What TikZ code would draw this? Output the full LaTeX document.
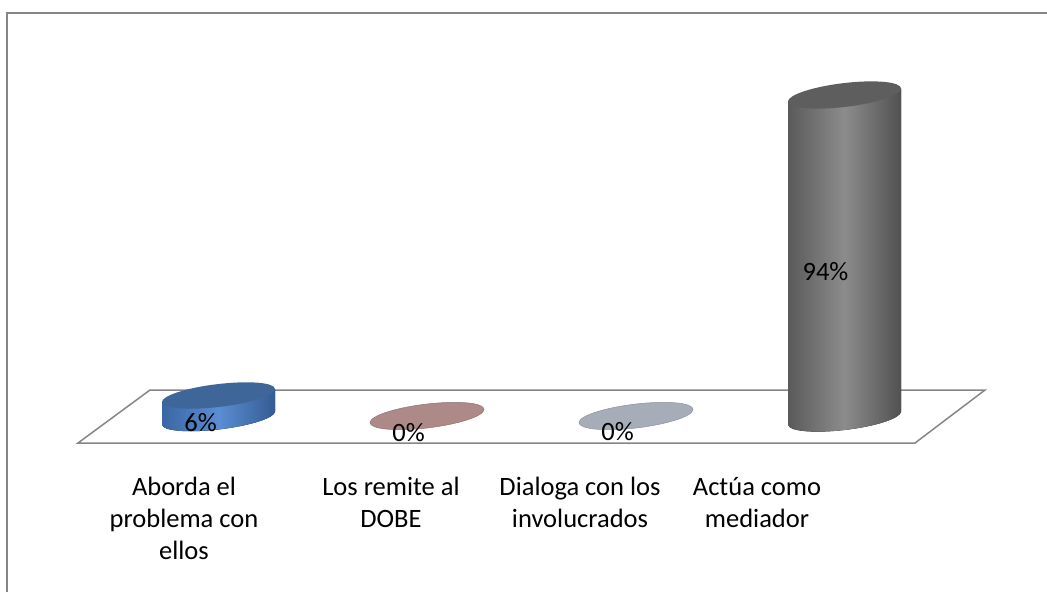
\documentclass[tikz,border=0pt]{standalone}
\usepackage{fontspec}
\setmainfont{Carlito}

\definecolor{framegray}{HTML}{868686}
\definecolor{blueside}{HTML}{3A66A3}
\definecolor{bluelight}{HTML}{5B8DD3}
\definecolor{bluetop}{HTML}{3E6699}
\definecolor{rosetop}{HTML}{AD8987}
\definecolor{slatetop}{HTML}{A7ADB8}
\definecolor{grayside}{HTML}{5A5A5A}
\definecolor{graylight}{HTML}{8C8C8C}
\definecolor{graytop}{HTML}{5E5E5E}

\begin{document}
\begin{tikzpicture}[x=1pt, y=-1pt,
    pct/.style={anchor=base, inner sep=0pt, font=\fontsize{26.5pt}{32pt}\selectfont},
    cat/.style={anchor=base, inner sep=0pt, align=center, font=\fontsize{26.5pt}{32pt}\selectfont}]
        \useasboundingbox (0,0) rectangle (1047,592);

        % Chart frame
        \draw[framegray, line width=2pt] (7,592) -- (7,13) -- (1047,13);

        % Floor
        \draw[framegray, line width=1.5pt] (150,390) -- (985,390) -- (915,443) -- (78,443) -- cycle;

        % Bar 1: cylinder
        \begin{scope}[shift={(218.5,0)}, yslant=0.115]
            \fill[left color=blueside, right color=blueside!90!black, middle color=bluelight]
                (-56.5,395.5) -- (-56.5,418) arc[start angle=180, end angle=360, x radius=56.5pt, y radius=11.5pt] -- (56.5,395.5) -- cycle;
            \fill[bluetop] (0,395.5) ellipse[x radius=56.5pt, y radius=11.5pt];
        \end{scope}

        % Bars 2 and 3: flat discs
        \begin{scope}[shift={(427,0)}, yslant=0.115]
            \filldraw[rosetop, draw=rosetop!85!black, line width=0.5pt] (0,416) ellipse[x radius=57pt, y radius=12pt];
        \end{scope}
        \begin{scope}[shift={(636,0)}, yslant=0.115]
            \filldraw[slatetop, draw=slatetop!85!black, line width=0.5pt] (0,416) ellipse[x radius=57pt, y radius=12pt];
        \end{scope}

        % Bar 4: cylinder
        \begin{scope}[shift={(844.5,0)}, yslant=0.115]
            \fill[left color=grayside, right color=grayside!90!black, middle color=graylight]
                (-56.5,95) -- (-56.5,418) arc[start angle=180, end angle=360, x radius=56.5pt, y radius=12pt] -- (56.5,95) -- cycle;
            \fill[graytop] (0,95) ellipse[x radius=56.5pt, y radius=12pt];
        \end{scope}

        % Values
        \node[pct] (v1) at (200.5,431) {6\%};
        \node[pct] (v2) at (408.5,441) {0\%};
        \node[pct] (v3) at (617.5,440) {0\%};
        \node[pct] (v4) at (825.5,280) {94\%};

        % Categories (base = last line)
        \node[cat] (c1) at (184,559) {Aborda el\\problema con\\ellos};
        \node[cat] (c2) at (391,527) {Los remite al\\DOBE};
        \node[cat] (c3) at (580,527) {Dialoga con los\\involucrados};
        \node[cat] (c4) at (757,527) {Actúa como\\mediador};
    \end{tikzpicture}
\end{document}
